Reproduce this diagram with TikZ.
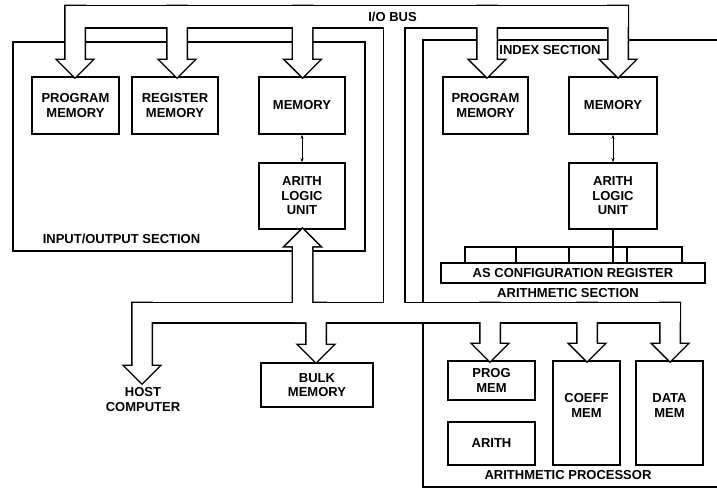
\documentclass[tikz,border=0pt]{standalone}
\usepackage{fontspec}
\setmainfont{Liberation Sans}
\usetikzlibrary{arrows.meta, calc}

% wide bus: band pieces and arrow pieces, drawn twice (outline, then white fill)
\newcommand{\buspieces}[1]{%
  \path[#1] (65.5,6) rectangle (627.5,27);
  \path[#1] (384,6) rectangle (404,322);
  \path[#1] (132.5,303) rectangle (679.5,322);
  \foreach \x/\t/\s in {75/77/6, 177/77/6, 302.5/77/6, 487/77/6, 618/77/6,
                        142/383/303, 316/362/303, 490/361/303, 587/361/303, 670/361/303}{
    \path[#1] (\x-9.5,\s) -- (\x-9.5,\t-17) -- (\x-17,\t-17) -- (\x,\t)
      -- (\x+17,\t-17) -- (\x+9.5,\t-17) -- (\x+9.5,\s) -- cycle;}
  \path[#1] (293,322) -- (293,246) -- (285.5,246) -- (302.5,229)
    -- (319.5,246) -- (312,246) -- (312,322) -- cycle;
}

\begin{document}
\begin{tikzpicture}[x=1pt, y=-1pt, line width=1.5pt,
    font=\fontsize{13}{14.5}\selectfont\bfseries,
    box/.style={draw, align=center, inner sep=0pt},
    txt/.style={align=center, inner sep=0pt},
    dbl/.style={{Stealth[length=4pt,width=3pt]}-{Stealth[length=4pt,width=3pt]}, line width=0.9pt}]
  \clip (0,0) rectangle (717,488);

  % sections
  \draw (13,42) rectangle (365,251);
  \draw (730,40) -| (423,303);
  \draw (423,322) |- (730,487);

  % input/output section
  \node[box, minimum width=87pt, minimum height=57pt] (pm) at (75.5,105.5) {PROGRAM\\MEMORY};
  \node[box, minimum width=86pt, minimum height=57pt] (rm) at (175,105.5) {REGISTER\\MEMORY};
  \node[box, minimum width=86pt, minimum height=57pt] (iomem) at (302,105.5) {MEMORY};
  \node[box, minimum width=86pt, minimum height=66pt] (ioalu) at (302,196) {ARITH\\LOGIC\\UNIT};
  \draw[dbl] (iomem) -- (ioalu);
  \node[txt, anchor=west] (iolbl) at (42,239) {INPUT/OUTPUT SECTION};

  % index and arithmetic section
  \node[box, minimum width=85pt, minimum height=57pt] (xpm) at (485.5,105.5) {PROGRAM\\MEMORY};
  \node[box, minimum width=88pt, minimum height=57pt] (xmem) at (613,105.5) {MEMORY};
  \node[box, minimum width=88pt, minimum height=66pt] (xalu) at (613,196) {ARITH\\LOGIC\\UNIT};
  \draw[dbl] (xmem) -- (xalu);
  \node[box, minimum width=264pt, minimum height=20pt] (ascfg) at (573,273) {AS CONFIGURATION REGISTER};
  \draw (465,263) |- (682,247) -- (682,263);
  \foreach \c in {516,569,627}
    \draw (\c,247) -- (\c,263);
  \draw (xalu.south) -- (xalu.south |- ascfg.north);
  \node[txt] (aslbl) at (568,293) {ARITHMETIC SECTION};

  % arithmetic processor
  \node[box, minimum width=87pt, minimum height=39pt] (pgm) at (491.5,380.5) {PROG\\MEM};
  \node[box, minimum width=87pt, minimum height=43pt] (arith) at (491.5,443.5) {ARITH};
  \node[box, minimum width=67pt, minimum height=104pt] (coeff) at (586.5,413) {};
  \node[txt] (coefftxt) at (586.5,405.5) {COEFF\\MEM};
  \node[box, minimum width=67pt, minimum height=104pt] (data) at (669.5,413) {};
  \node[txt] (datatxt) at (669.5,405.5) {DATA\\MEM};
  \node[txt] (aplbl) at (568,475) {ARITHMETIC PROCESSOR};

  % bulk memory and host
  \node[box, minimum width=112pt, minimum height=44pt] (bulk) at (317,385) {BULK\\MEMORY};
  \node[txt] (host) at (143,399.5) {HOST\\COMPUTER};

  % buses
  \buspieces{draw, line width=3pt}
  \buspieces{fill=white}
  \node[txt] (buslbl) at (392.5,17) {I/O BUS};
  \node[txt] (xlbl) at (550,50) {INDEX SECTION};
\end{tikzpicture}
\end{document}
